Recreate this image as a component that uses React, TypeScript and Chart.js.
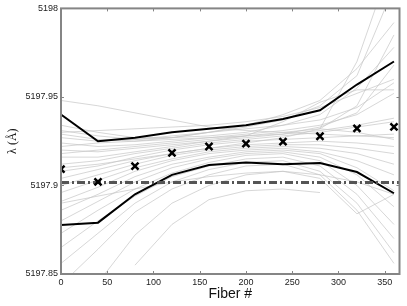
import { useEffect, useRef } from "react";
import { Chart, registerables } from "chart.js";

Chart.register(...registerables);

const fiberNumbers = [0, 40, 80, 120, 160, 200, 240, 280, 320, 360];

const xTicks = [0, 50, 100, 150, 200, 250, 300, 350];
const yTicks = [5197.85, 5197.9, 5197.95, 5198];
const yTickLabels = ["5197.85", "5197.9", "5197.95", "5198"];

const upperEnvelope = [5197.94, 5197.925, 5197.927, 5197.93, 5197.932, 5197.934, 5197.9375, 5197.9425, 5197.957, 5197.97];
const lowerEnvelope = [5197.8777, 5197.879, 5197.895, 5197.906, 5197.9116, 5197.913, 5197.912, 5197.9127, 5197.9076, 5197.8956];
const meanValues = [5197.9092, 5197.902, 5197.9109, 5197.9184, 5197.922, 5197.9236, 5197.9248, 5197.9278, 5197.9322, 5197.9331];
const referenceWavelength = 5197.9017;

const fiberTraces: (number | null)[][] = [
  [5197.948, 5197.945, 5197.941, 5197.937, 5197.933, 5197.931, 5197.93, 5197.929, 5197.928, 5197.927],
  [5197.934, 5197.93, 5197.927, 5197.927, 5197.928, 5197.93, 5197.934, 5197.94, 5197.955, 5197.978],
  [5197.931, 5197.928, 5197.926, 5197.927, 5197.93, 5197.934, 5197.94, 5197.948, 5197.966, 5197.992],
  [5197.929, 5197.926, 5197.925, 5197.927, 5197.93, 5197.933, 5197.937, 5197.945, 5197.962, 5198.012],
  [5197.927, 5197.925, 5197.926, 5197.928, 5197.93, 5197.932, 5197.934, 5197.937, 5197.944, 5197.958],
  [5197.924, 5197.922, 5197.923, 5197.925, 5197.927, 5197.929, 5197.931, 5197.934, 5197.94, 5197.952],
  [5197.92, 5197.919, 5197.921, 5197.923, 5197.925, 5197.927, 5197.929, 5197.933, 5197.941, 5197.968],
  [5197.916, 5197.916, 5197.919, 5197.922, 5197.925, 5197.928, 5197.936, 5197.947, 5197.954, 5197.954],
  [5197.912, 5197.914, 5197.918, 5197.921, 5197.924, 5197.926, 5197.928, 5197.93, 5197.933, 5197.936],
  [5197.908, 5197.911, 5197.916, 5197.92, 5197.923, 5197.925, 5197.926, 5197.927, 5197.928, 5197.929],
  [5197.904, 5197.909, 5197.914, 5197.918, 5197.921, 5197.923, 5197.924, 5197.925, 5197.924, 5197.922],
  [5197.9, 5197.906, 5197.912, 5197.917, 5197.92, 5197.922, 5197.923, 5197.923, 5197.921, 5197.918],
  [5197.896, 5197.903, 5197.91, 5197.915, 5197.919, 5197.921, 5197.922, 5197.921, 5197.918, 5197.912],
  [5197.891, 5197.899, 5197.908, 5197.914, 5197.918, 5197.92, 5197.921, 5197.919, 5197.914, 5197.906],
  [5197.886, 5197.895, 5197.905, 5197.912, 5197.916, 5197.919, 5197.92, 5197.918, 5197.91, 5197.897],
  [5197.88, 5197.891, 5197.902, 5197.91, 5197.915, 5197.918, 5197.919, 5197.916, 5197.906, 5197.888],
  [5197.873, 5197.886, 5197.898, 5197.907, 5197.913, 5197.917, 5197.918, 5197.914, 5197.9, 5197.878],
  [5197.865, 5197.88, 5197.894, 5197.905, 5197.911, 5197.915, 5197.916, 5197.911, 5197.895, 5197.87],
  [5197.856, 5197.873, 5197.89, 5197.902, 5197.909, 5197.913, 5197.914, 5197.908, 5197.89, 5197.862],
  [5197.844, 5197.864, 5197.885, 5197.898, 5197.906, 5197.911, 5197.912, 5197.906, 5197.886, 5197.856],
  [null, 5197.845, 5197.872, 5197.89, 5197.9, 5197.906, 5197.908, 5197.904, 5197.884, 5197.895],
  [null, null, 5197.855, 5197.878, 5197.892, 5197.897, 5197.898, 5197.896, null, null],
  [5197.922, 5197.924, 5197.925, 5197.926, 5197.927, 5197.928, 5197.929, 5197.931, 5197.934, 5197.938],
  [5197.93, 5197.931, 5197.932, 5197.933, 5197.934, 5197.936, 5197.939, 5197.944, 5197.952, 5197.96],
  [5197.91, 5197.912, 5197.915, 5197.918, 5197.921, 5197.924, 5197.927, 5197.932, 5197.945, 5197.985],
  [null, null, null, null, null, null, null, 5197.932, 5197.97, 5198.03],
  [5197.89, 5197.894, 5197.898, 5197.902, 5197.905, 5197.907, 5197.908, 5197.906, 5197.902, 5197.895],
  [5197.918, 5197.92, 5197.922, 5197.924, 5197.926, 5197.928, 5197.93, 5197.932, 5197.93, 5197.926],
];

const X_MIN = 0;
const X_MAX = 366;
const Y_MIN = 5197.85;
const Y_MAX = 5198;

const toPoints = (ys: (number | null)[]) => fiberNumbers.map((x, i) => ({ x, y: ys[i] }));

const framePlugin = {
  id: "frameTicks",
  afterDatasetsDraw(chart: any) {
    const { ctx, chartArea, scales } = chart;
    const { left, right, top, bottom } = chartArea;
    ctx.save();
    ctx.strokeStyle = "#858585";
    ctx.lineWidth = 1;
    const len = 3;
    ctx.beginPath();
    xTicks.forEach((v) => {
      const px = Math.round(scales.x.getPixelForValue(v)) + 0.5;
      ctx.moveTo(px, bottom);
      ctx.lineTo(px, bottom - len);
      ctx.moveTo(px, top);
      ctx.lineTo(px, top + len);
    });
    yTicks.forEach((v) => {
      const py = Math.round(scales.y.getPixelForValue(v)) + 0.5;
      ctx.moveTo(left, py);
      ctx.lineTo(left + len, py);
      ctx.moveTo(right, py);
      ctx.lineTo(right - len, py);
    });
    ctx.stroke();
    ctx.lineWidth = 2;
    ctx.strokeStyle = "#858585";
    ctx.strokeRect(left, top, right - left, bottom - top);
    ctx.restore();
  },
};

export default function App() {
  const canvasRef = useRef<HTMLCanvasElement | null>(null);

  useEffect(() => {
    const canvas = canvasRef.current;
    if (!canvas) return;

    const grayDatasets = fiberTraces.map((trace, i) => ({
      label: `fiber trace ${i + 1}`,
      data: toPoints(trace),
      borderColor: "#c6c6c6",
      borderWidth: 0.7,
      pointRadius: 0,
      spanGaps: false,
      order: 4,
    }));

    const chart = new Chart(canvas, {
      type: "line",
      data: {
        datasets: [
          {
            label: "mean",
            data: toPoints(meanValues),
            showLine: false,
            pointStyle: "crossRot",
            pointRadius: 5,
            pointBorderWidth: 2.5,
            pointBorderColor: "#000",
            borderColor: "#000",
            order: 0,
          },
          {
            label: "reference",
            data: [
              { x: X_MIN, y: referenceWavelength },
              { x: X_MAX, y: referenceWavelength },
            ],
            borderColor: "#555555",
            borderWidth: 3,
            borderDash: [8, 3, 2, 3],
            pointRadius: 0,
            order: 1,
          },
          {
            label: "upper",
            data: toPoints(upperEnvelope),
            borderColor: "#000",
            borderWidth: 2,
            pointRadius: 0,
            order: 2,
          },
          {
            label: "lower",
            data: toPoints(lowerEnvelope),
            borderColor: "#000",
            borderWidth: 2,
            pointRadius: 0,
            order: 2,
          },
          ...grayDatasets,
        ] as any,
      },
      options: {
        animation: false,
        responsive: false,
        events: [],
        layout: { padding: { top: 3, right: 6, left: 0, bottom: 0 } },
        plugins: {
          legend: { display: false },
          tooltip: { enabled: false },
        },
        scales: {
          x: {
            type: "linear",
            min: X_MIN,
            max: X_MAX,
            grid: { display: false, drawTicks: false, tickLength: 0 },
            border: { display: false },
            afterBuildTicks: (scale: any) => {
              scale.ticks = xTicks.map((v) => ({ value: v }));
            },
            afterFit: (scale: any) => {
              scale.height = 32;
            },
            ticks: {
              padding: 3,
              maxRotation: 0,
              autoSkip: false,
              color: "#222",
              font: { family: "Liberation Sans", size: 9 },
              callback: (v: any) => String(v),
            },
            title: {
              display: true,
              text: "Fiber #",
              color: "#111",
              font: { family: "Liberation Sans", size: 14 },
              padding: { top: 0, bottom: 3 },
            },
          },
          y: {
            type: "linear",
            min: Y_MIN,
            max: Y_MAX,
            grid: { display: false, drawTicks: false, tickLength: 0 },
            border: { display: false },
            afterBuildTicks: (scale: any) => {
              scale.ticks = yTicks.map((v) => ({ value: v }));
            },
            afterFit: (scale: any) => {
              scale.width = 61;
            },
            ticks: {
              padding: 3,
              autoSkip: false,
              color: "#222",
              font: { family: "Liberation Sans", size: 9 },
              callback: (v: any) => {
                const idx = yTicks.findIndex((t) => Math.abs(t - Number(v)) < 1e-6);
                return idx >= 0 ? yTickLabels[idx] : "";
              },
            },
            title: {
              display: true,
              text: "λ (Å)",
              color: "#111",
              font: { family: "Liberation Serif", size: 12 },
              padding: { top: 6, bottom: 0 },
            },
          },
        },
      },
      plugins: [framePlugin],
    } as any);

    return () => chart.destroy();
  }, []);

  return (
    <div style={{ position: "fixed", left: 0, top: 0, width: 407, height: 306, background: "#fff" }}>
      <canvas ref={canvasRef} width={407} height={306} style={{ display: "block" }} />
    </div>
  );
}
